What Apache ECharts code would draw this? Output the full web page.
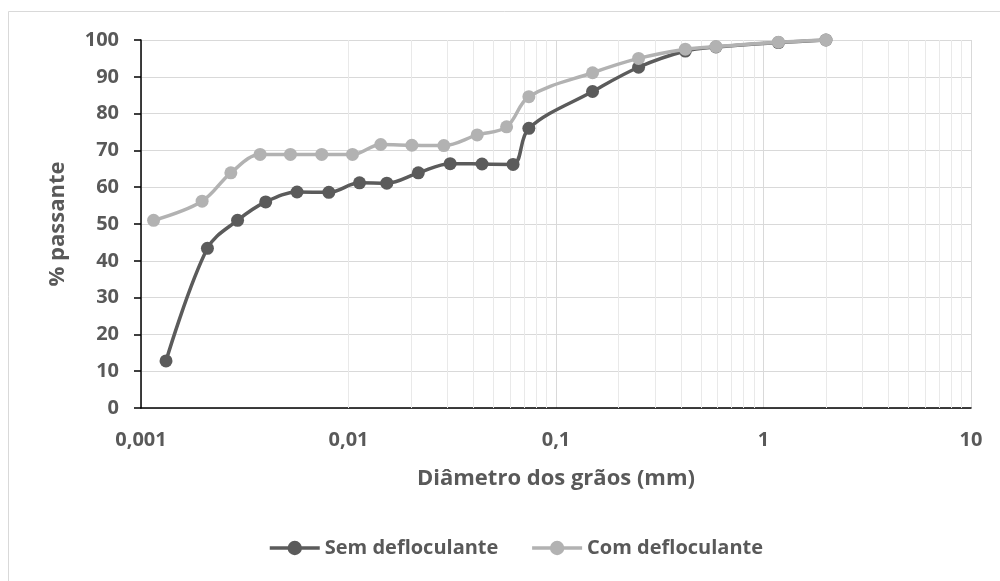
<!DOCTYPE html>
<html>
<head>
<meta charset="utf-8">
<script src="https://cdn.jsdelivr.net/npm/echarts@6/dist/echarts.min.js"></script>
<style>
  html, body { margin: 0; padding: 0; background: #ffffff; }
  #chart { width: 1000px; height: 581px; }
</style>
</head>
<body>
<div id="chart"></div>
<script>
// Grain-size distribution: sieve / sedimentation diameters (mm) and % passing
const semDiam = [0.00132, 0.00209, 0.00292, 0.00399, 0.00565, 0.00804, 0.0113, 0.0153, 0.0217, 0.0309, 0.0440, 0.0621, 0.074, 0.15, 0.25, 0.42, 0.59, 1.18, 2.0];
const semPass = [12.8, 43.4, 51.0, 56.0, 58.7, 58.6, 61.2, 61.1, 63.9, 66.4, 66.3, 66.2, 76.0, 86.0, 92.6, 97.0, 98.1, 99.3, 100];

const comDiam = [0.00115, 0.00197, 0.00271, 0.00375, 0.00525, 0.00743, 0.01045, 0.0143, 0.0202, 0.0288, 0.0417, 0.0578, 0.074, 0.15, 0.25, 0.42, 0.59, 1.18, 2.0];
const comPass = [51.0, 56.2, 63.9, 68.9, 68.9, 68.9, 68.9, 71.6, 71.4, 71.3, 74.2, 76.4, 84.6, 91.1, 95.0, 97.5, 98.2, 99.4, 100];

const xTickLabels = ['0,001', '0,01', '0,1', '1', '10'];
const seriesNames = ['Sem defloculante', 'Com defloculante'];

// Minor log gridlines (2..9 within each decade)
const minorLines = [];
for (let d = -3; d < 1; d++) {
  for (let m = 2; m <= 9; m++) {
    minorLines.push({ xAxis: m * Math.pow(10, d) });
  }
}

const pairs = (xs, ys) => xs.map((x, i) => [x, ys[i]]);
const textColor = '#595959';
const font = '"Open Sans", "Noto Sans", sans-serif';

const chart = echarts.init(document.getElementById('chart'), null, { renderer: 'canvas' });
chart.setOption({
  animation: false,
  backgroundColor: '#ffffff',
  textStyle: { fontFamily: font },
  graphic: [{
    type: 'rect',
    shape: { x: 8.5, y: 11.5, width: 1000, height: 600 },
    style: { fill: 'none', stroke: '#d9d9d9', lineWidth: 1 },
    silent: true,
    z: -10
  }],
  grid: { left: 141, right: 29, top: 40, bottom: 173, containLabel: false },
  xAxis: {
    type: 'log',
    logBase: 10,
    min: 0.001,
    max: 10,
    name: 'Diâmetro dos grãos (mm)',
    nameLocation: 'middle',
    nameGap: 60,
    nameTextStyle: { color: textColor, fontSize: 22, fontWeight: 'bold', fontFamily: font },
    axisLine: { lineStyle: { color: '#000000', width: 1.5 } },
    axisTick: { show: false },
    axisLabel: {
      color: textColor, fontSize: 20, fontWeight: 'bold', fontFamily: font, margin: 22,
      formatter: v => xTickLabels[Math.round(Math.log10(v)) + 3]
    },
    splitLine: { show: true, lineStyle: { color: '#d9d9d9', width: 1 } }
  },
  yAxis: {
    type: 'value',
    min: 0,
    max: 100,
    interval: 10,
    name: '% passante',
    nameLocation: 'middle',
    nameGap: 72,
    nameRotate: 90,
    nameTextStyle: { color: textColor, fontSize: 22, fontWeight: 'bold', fontFamily: font },
    axisLine: { show: true, lineStyle: { color: '#000000', width: 1.5 } },
    axisTick: { show: true, length: 7, lineStyle: { color: '#000000', width: 1.5 } },
    axisLabel: { color: textColor, fontSize: 20, fontWeight: 'bold', fontFamily: font, margin: 22 },
    splitLine: { show: true, lineStyle: { color: '#d9d9d9', width: 1 } }
  },
  legend: {
    data: seriesNames,
    left: 263,
    top: 533,
    itemWidth: 50,
    itemHeight: 18,
    itemGap: 32,
    lineStyle: { width: 3.5 },
    textStyle: { color: textColor, fontSize: 20, fontWeight: 'bold', fontFamily: font, padding: [0, 0, 0, 0] }
  },
  series: [
    {
      name: seriesNames[0],
      type: 'line',
      data: pairs(semDiam, semPass),
      smooth: 0.35,
      symbol: 'circle',
      symbolSize: 13,
      color: '#5b5b5b',
      lineStyle: { width: 3.5, color: '#5b5b5b' },
      itemStyle: { color: '#5b5b5b' },
      z: 3,
      markLine: {
        silent: true,
        symbol: 'none',
        label: { show: false },
        lineStyle: { color: '#e9e9e9', width: 1, type: 'solid' },
        data: minorLines,
        z: 1
      }
    },
    {
      name: seriesNames[1],
      type: 'line',
      data: pairs(comDiam, comPass),
      smooth: 0.35,
      symbol: 'circle',
      symbolSize: 13,
      color: '#b2b2b2',
      lineStyle: { width: 3.5, color: '#b2b2b2' },
      itemStyle: { color: '#b2b2b2' },
      z: 4
    }
  ]
});
</script>
</body>
</html>
